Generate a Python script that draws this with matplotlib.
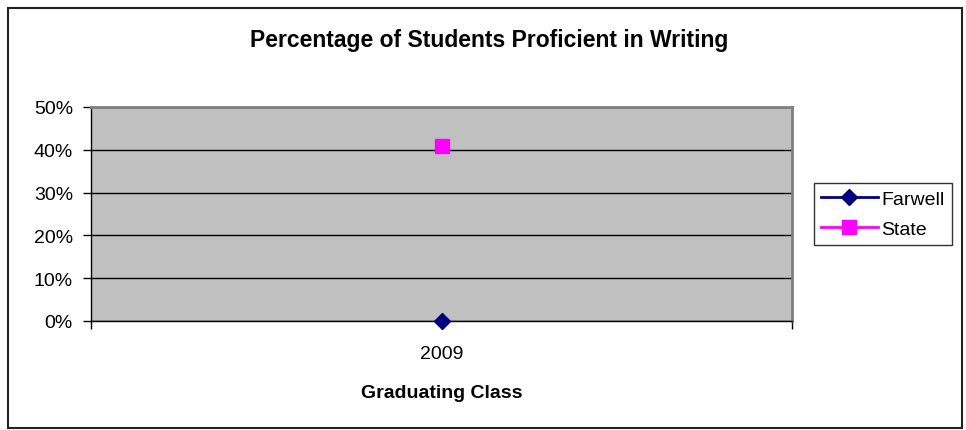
import matplotlib
matplotlib.use("Agg")
import matplotlib.pyplot as plt
from matplotlib.patches import Rectangle
from matplotlib.ticker import FixedLocator, PercentFormatter

# Dados do gráfico
categories = ["2009"]
farwell = [0.0]
state = [41.0]
y_ticks = [0, 10, 20, 30, 40, 50]

plt.rcParams["font.family"] = ["Liberation Sans", "DejaVu Sans"]

fig = plt.figure(figsize=(9.66, 4.31), dpi=100)
ax = fig.add_axes([91 / 966, 1 - 322 / 431, (792 - 91) / 966, (322 - 108) / 431])

# Borda externa do gráfico
fig.patches.append(Rectangle((8 / 966, 1 - 429 / 431), (962 - 8) / 966, (429 - 9) / 431,
                             transform=fig.transFigure, fill=False,
                             edgecolor="#222222", linewidth=1.5))

ax.set_facecolor("#C0C0C0")
x = [i + 0.5 for i in range(len(categories))]

ax.plot(x, farwell, color="#000080", marker="D", markersize=8.5, linewidth=2,
        label="Farwell", clip_on=False, zorder=5)
ax.plot(x, state, color="#FF00FF", marker="s", markersize=9.5, linewidth=2,
        label="State", clip_on=False, zorder=5)

ax.set_xlim(0, len(categories))
ax.set_ylim(0, 50)

ax.set_yticks(y_ticks)
ax.yaxis.set_major_formatter(PercentFormatter(decimals=0))
ax.grid(axis="y", color="black", linewidth=1)
ax.set_axisbelow(True)

ax.set_xticks(x)
ax.set_xticklabels(categories)
ax.xaxis.set_minor_locator(FixedLocator(range(len(categories) + 1)))
ax.tick_params(axis="x", which="major", length=0, pad=17, labelsize=14)
ax.tick_params(axis="x", which="minor", length=6, width=1, direction="out")
ax.tick_params(axis="y", length=6, width=1, direction="out", labelsize=14, pad=7)

for side in ("top", "right"):
    ax.spines[side].set_color("#808080")
    ax.spines[side].set_linewidth(2)
for side in ("left", "bottom"):
    ax.spines[side].set_color("black")
    ax.spines[side].set_linewidth(1)

ax.set_xlabel("Graduating Class", fontsize=14, fontweight="bold", labelpad=16)
fig.text(489 / 966, 1 - 40 / 431, "Percentage of Students Proficient in Writing",
         ha="center", va="center", fontsize=16.5, fontweight="bold")

leg = ax.legend(loc="center left", bbox_to_anchor=(814 / 966, 1 - 215 / 431),
                bbox_transform=fig.transFigure, fontsize=14, frameon=True,
                fancybox=False, handlelength=2.9, borderpad=0.37, labelspacing=0.65,
                handletextpad=0.2, borderaxespad=0)
leg.get_frame().set_edgecolor("black")
leg.get_frame().set_linewidth(1)

fig.savefig("out.png", dpi=100)
